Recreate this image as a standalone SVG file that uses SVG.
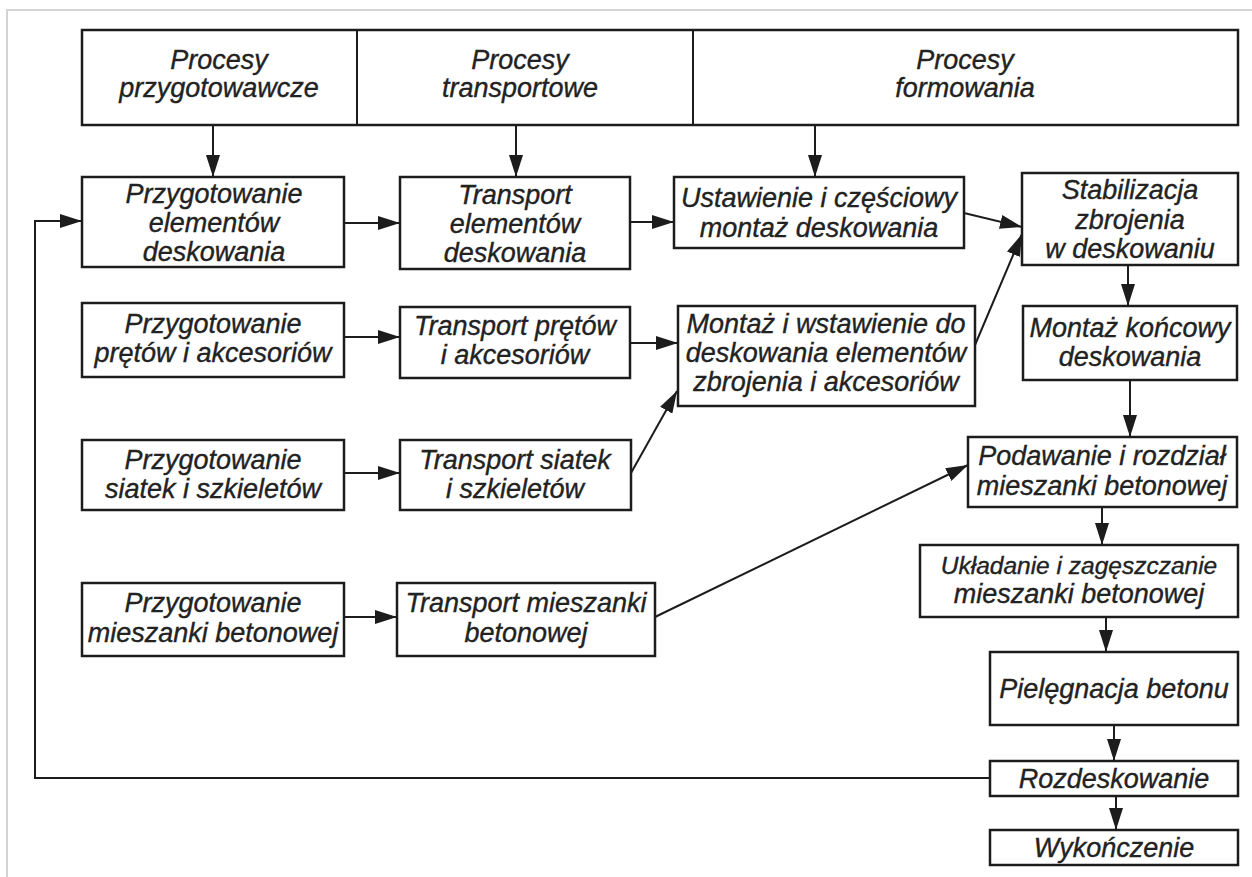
<svg xmlns="http://www.w3.org/2000/svg" width="1252" height="877" viewBox="0 0 1252 877">
<style>
.box{fill:#fff;stroke:#1c1c1c;stroke-width:2.5}
.t{font-family:"Liberation Sans",Arial,sans-serif;font-style:italic;font-size:27px;fill:#222;stroke:#222;stroke-width:0.35;text-anchor:middle}
.c{fill:none;stroke:#1c1c1c;stroke-width:2}
.a{marker-end:url(#ah)}
</style>
<defs>
<marker id="ah" markerUnits="userSpaceOnUse" markerWidth="22" markerHeight="14" refX="22" refY="7" orient="auto">
<path d="M0,0 L22,7 L0,14 z" fill="#1c1c1c"/>
</marker>
</defs>
<rect x="0" y="0" width="1252" height="877" fill="#fff"/>
<path d="M7,877 V10 H1252" fill="none" stroke="#d4d4d4" stroke-width="2"/>

<g id="header">
<rect class="box" x="82" y="30" width="1156" height="95"/>
<line x1="357" y1="30" x2="357" y2="125" stroke="#1c1c1c" stroke-width="2"/>
<line x1="693" y1="30" x2="693" y2="125" stroke="#1c1c1c" stroke-width="2"/>
<text class="t" x="219" y="69">Procesy</text>
<text class="t" x="219" y="97">przygotowawcze</text>
<text class="t" x="520" y="69">Procesy</text>
<text class="t" x="520" y="97">transportowe</text>
<text class="t" x="965" y="69">Procesy</text>
<text class="t" x="965" y="97">formowania</text>
</g>

<g id="n-przyg-elem">
<rect class="box" x="82" y="177" width="262" height="90"/>
<text class="t" x="214" y="203">Przygotowanie</text>
<text class="t" x="214" y="232">elementów</text>
<text class="t" x="214" y="261">deskowania</text>
</g>
<g id="n-trans-elem">
<rect class="box" x="400" y="177" width="230" height="92"/>
<text class="t" x="515" y="204">Transport</text>
<text class="t" x="515" y="233">elementów</text>
<text class="t" x="515" y="262">deskowania</text>
</g>
<g id="n-ustawienie">
<rect class="box" x="674" y="177" width="290" height="71"/>
<text class="t" x="819" y="207">Ustawienie i częściowy</text>
<text class="t" x="819" y="237">montaż deskowania</text>
</g>
<g id="n-stabilizacja">
<rect class="box" x="1022" y="173" width="216" height="92"/>
<text class="t" x="1130" y="199">Stabilizacja</text>
<text class="t" x="1130" y="229">zbrojenia</text>
<text class="t" x="1130" y="258">w deskowaniu</text>
</g>

<g id="n-przyg-pretow">
<rect class="box" x="82" y="303" width="262" height="74"/>
<text class="t" x="213" y="333">Przygotowanie</text>
<text class="t" x="213" y="362">prętów i akcesoriów</text>
</g>
<g id="n-trans-pretow">
<rect class="box" x="400" y="307" width="230" height="71"/>
<text class="t" x="515" y="335">Transport prętów</text>
<text class="t" x="515" y="364">i akcesoriów</text>
</g>
<g id="n-montaz">
<rect class="box" x="678" y="306" width="297" height="100"/>
<text class="t" x="826" y="333">Montaż i wstawienie do</text>
<text class="t" x="826" y="362">deskowania elementów</text>
<text class="t" x="826" y="391">zbrojenia i akcesoriów</text>
</g>
<g id="n-montaz-koncowy">
<rect class="box" x="1023" y="306" width="214" height="74"/>
<text class="t" x="1130" y="337">Montaż końcowy</text>
<text class="t" x="1130" y="366">deskowania</text>
</g>

<g id="n-przyg-siatek">
<rect class="box" x="82" y="440" width="262" height="70"/>
<text class="t" x="213" y="469">Przygotowanie</text>
<text class="t" x="213" y="498">siatek i szkieletów</text>
</g>
<g id="n-trans-siatek">
<rect class="box" x="400" y="440" width="231" height="70"/>
<text class="t" x="515" y="469">Transport siatek</text>
<text class="t" x="515" y="498">i szkieletów</text>
</g>
<g id="n-podawanie">
<rect class="box" x="968" y="437" width="269" height="70"/>
<text class="t" x="1102" y="465">Podawanie i rozdział</text>
<text class="t" x="1102" y="495">mieszanki betonowej</text>
</g>

<g id="n-przyg-mieszanki">
<rect class="box" x="82" y="583" width="262" height="73"/>
<text class="t" x="213" y="612">Przygotowanie</text>
<text class="t" x="213" y="642">mieszanki betonowej</text>
</g>
<g id="n-trans-mieszanki">
<rect class="box" x="397" y="583" width="258" height="73"/>
<text class="t" x="526" y="612">Transport mieszanki</text>
<text class="t" x="526" y="642">betonowej</text>
</g>
<g id="n-ukladanie">
<rect class="box" x="920" y="545" width="318" height="72"/>
<text class="t" x="1079" y="574" style="font-size:24.5px">Układanie i zagęszczanie</text>
<text class="t" x="1079" y="603">mieszanki betonowej</text>
</g>
<g id="n-pielegnacja">
<rect class="box" x="990" y="652" width="248" height="73"/>
<text class="t" x="1114" y="698">Pielęgnacja betonu</text>
</g>
<g id="n-rozdeskowanie">
<rect class="box" x="990" y="761" width="248" height="35"/>
<text class="t" x="1114" y="788">Rozdeskowanie</text>
</g>
<g id="n-wykonczenie">
<rect class="box" x="990" y="830" width="248" height="35"/>
<text class="t" x="1114" y="857">Wykończenie</text>
</g>

<g id="connectors">
<line class="c a" x1="213" y1="125" x2="213" y2="177"/>
<line class="c a" x1="516" y1="125" x2="516" y2="177"/>
<line class="c a" x1="815" y1="125" x2="815" y2="177"/>
<line class="c a" x1="344" y1="223" x2="400" y2="223"/>
<line class="c a" x1="630" y1="222" x2="674" y2="222"/>
<line class="c a" x1="964" y1="213" x2="1022" y2="227"/>
<line class="c a" x1="975" y1="345" x2="1022" y2="234"/>
<line class="c a" x1="344" y1="337" x2="400" y2="337"/>
<line class="c a" x1="630" y1="343" x2="678" y2="343"/>
<line class="c a" x1="344" y1="473" x2="400" y2="473"/>
<line class="c a" x1="631" y1="473" x2="677" y2="391"/>
<line class="c a" x1="344" y1="617" x2="397" y2="617"/>
<line class="c a" x1="655" y1="617" x2="968" y2="465"/>
<line class="c a" x1="1128" y1="265" x2="1128" y2="306"/>
<line class="c a" x1="1130" y1="380" x2="1130" y2="437"/>
<line class="c a" x1="1102" y1="507" x2="1102" y2="545"/>
<line class="c a" x1="1106" y1="617" x2="1106" y2="652"/>
<line class="c a" x1="1114" y1="725" x2="1114" y2="761"/>
<line class="c a" x1="1116" y1="796" x2="1116" y2="830"/>
<polyline class="c a" points="990,778 35,778 35,221 82,221"/>
</g>
</svg>
